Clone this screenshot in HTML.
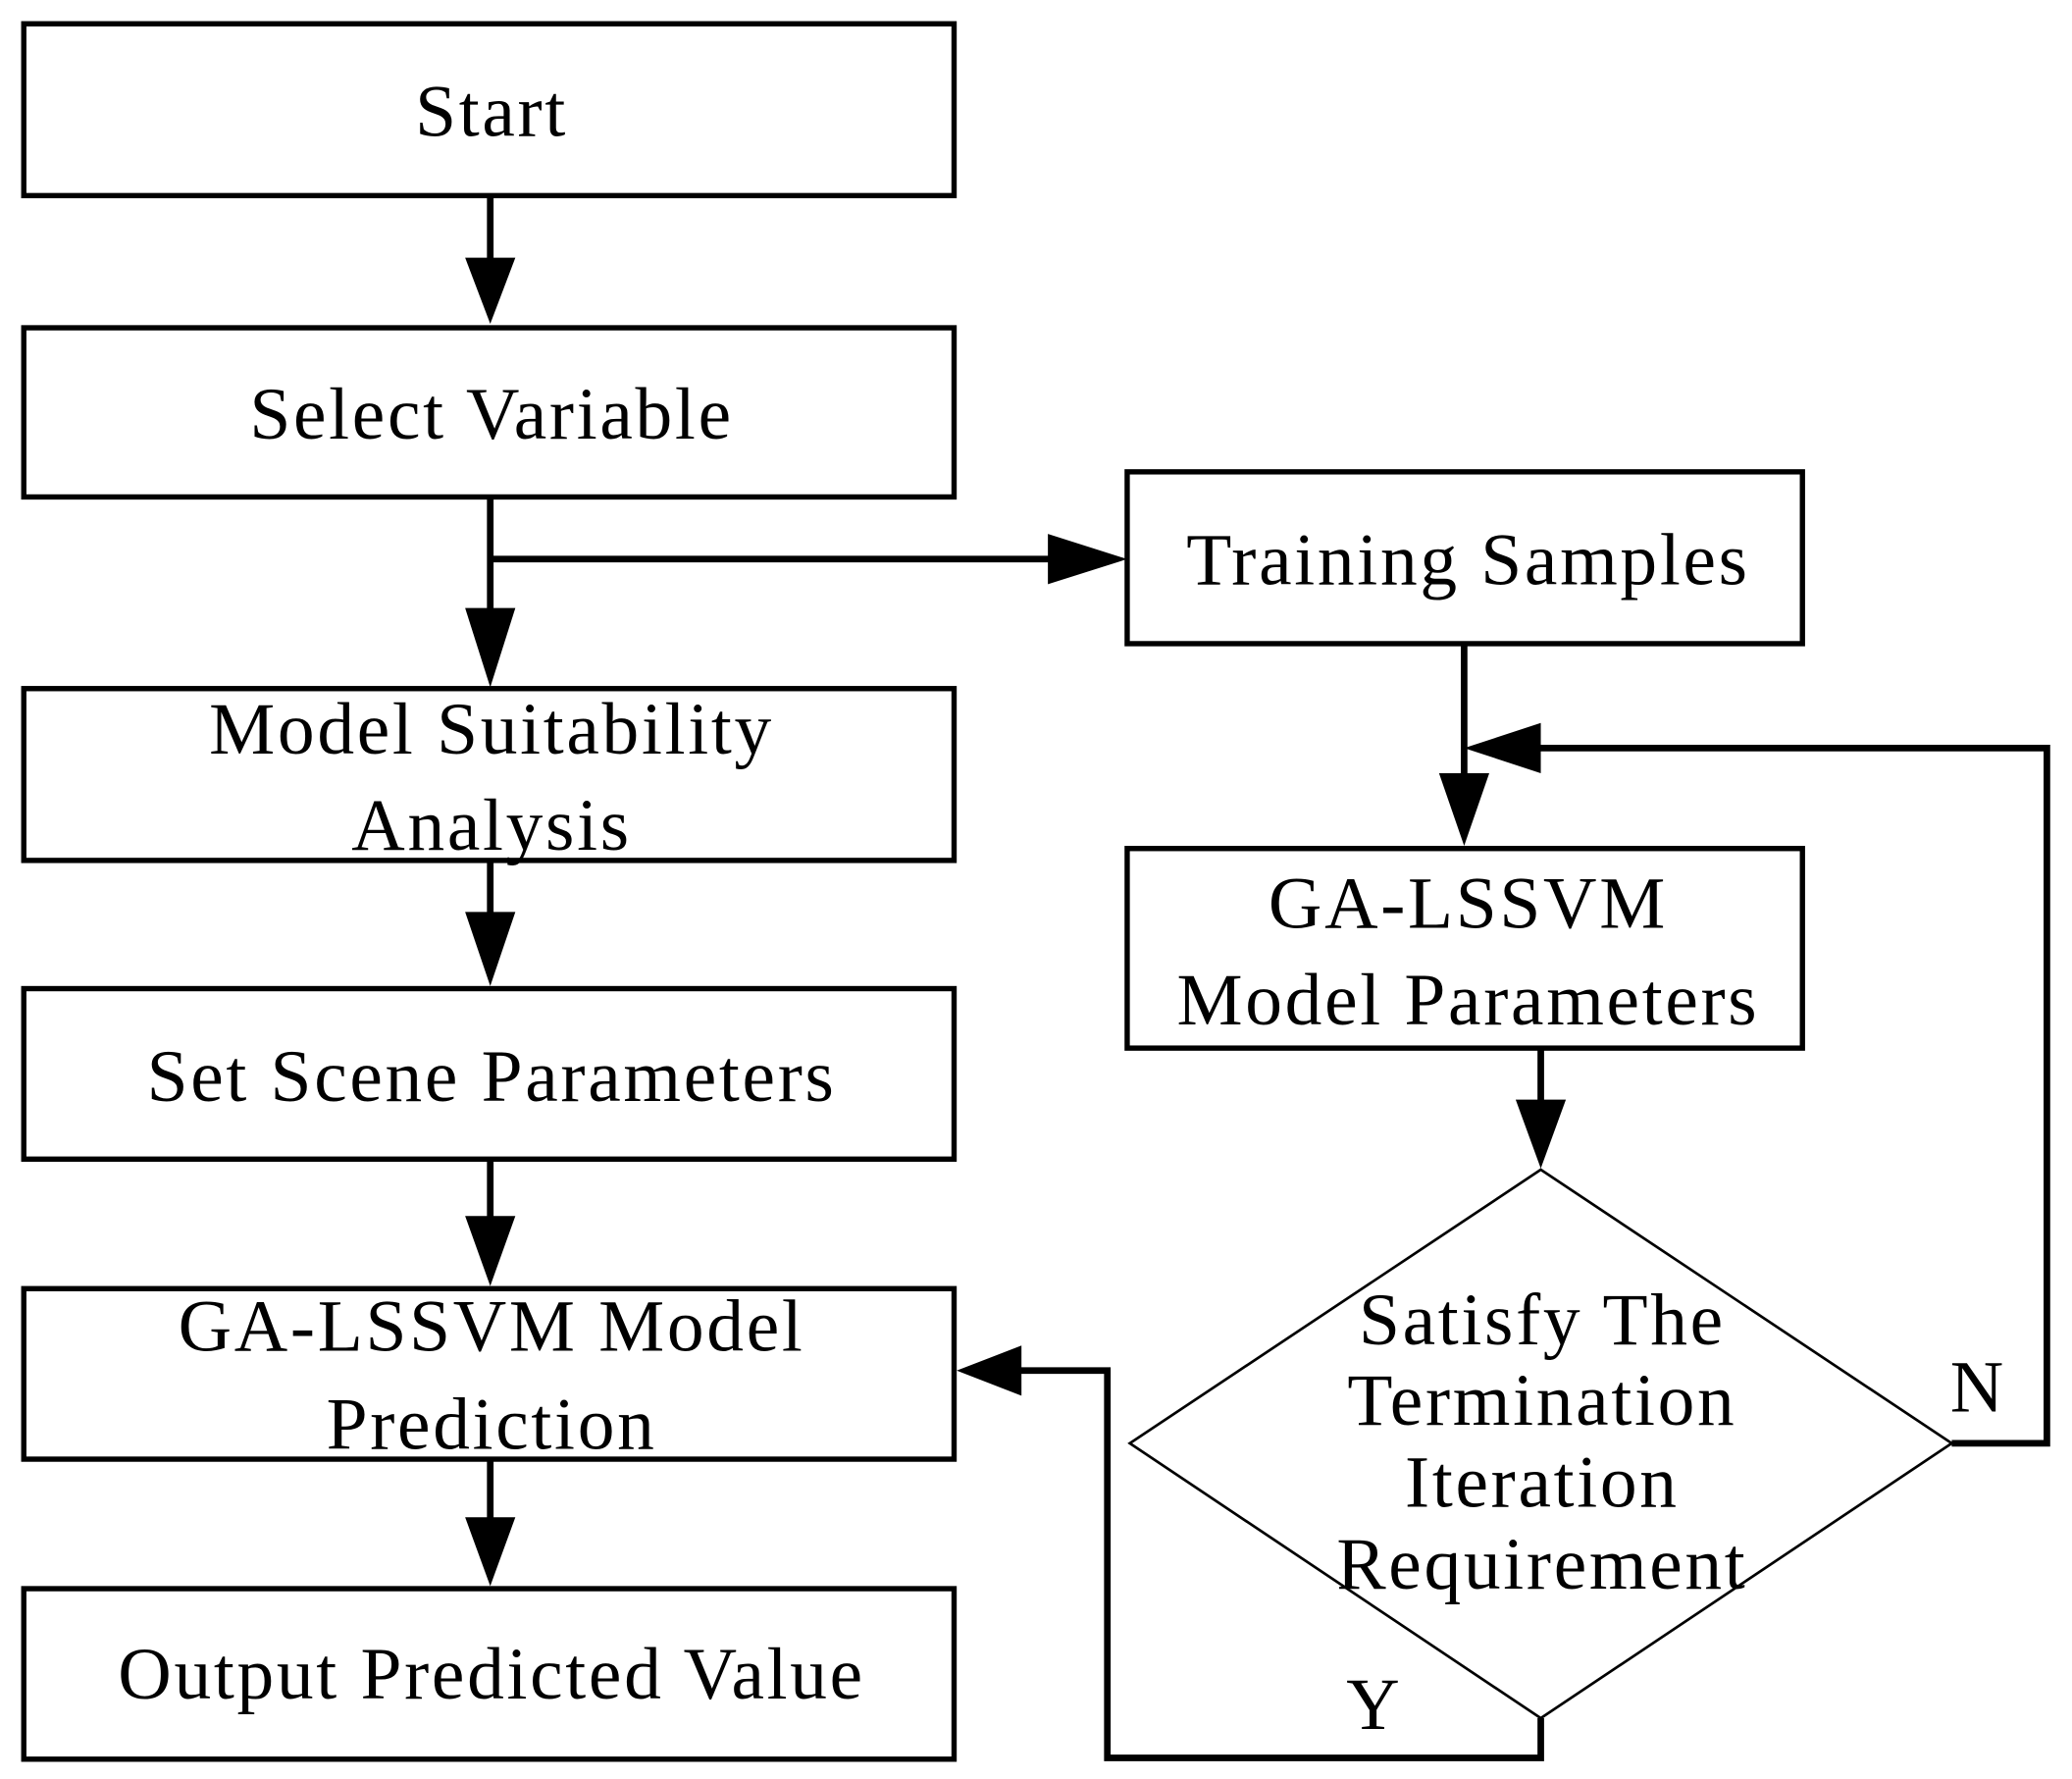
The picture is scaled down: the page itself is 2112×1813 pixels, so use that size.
<!DOCTYPE html>
<html><head><style>html,body{margin:0;padding:0;background:#fff}svg{display:block}</style></head>
<body>
<svg width="2112" height="1813" viewBox="0 0 1568 1346" preserveAspectRatio="none" xmlns="http://www.w3.org/2000/svg">
<g fill="#fff" stroke="#000" stroke-width="4">
<rect x="18" y="18" width="704" height="130"/>
<rect x="18" y="248" width="704" height="128"/>
<rect x="18" y="521" width="704" height="130"/>
<rect x="18" y="748" width="704" height="129"/>
<rect x="18" y="975" width="704" height="129"/>
<rect x="18" y="1202" width="704" height="129"/>
<rect x="853" y="357" width="511" height="130"/>
<rect x="853" y="642" width="511" height="151"/>
</g>
<polygon points="1166,885 1477,1092 1166,1300 855,1092" fill="none" stroke="#000" stroke-width="2"/>
<g stroke="#000" stroke-width="5" fill="none">
<line x1="371" y1="148" x2="371" y2="200"/>
<line x1="371" y1="376" x2="371" y2="470"/>
<line x1="371" y1="423" x2="800" y2="423"/>
<line x1="371" y1="651" x2="371" y2="700"/>
<line x1="371" y1="877" x2="371" y2="930"/>
<line x1="371" y1="1104" x2="371" y2="1155"/>
<line x1="1108" y1="487" x2="1108" y2="595"/>
<polyline points="1477,1092 1549,1092 1549,566 1160,566"/>
<line x1="1166" y1="793" x2="1166" y2="840"/>
<polyline points="1166,1300 1166,1330 838,1330 838,1037 770,1037"/>
</g>
<g fill="#000">
<polygon points="352,195 390,195 371,245"/>
<polygon points="352,460 390,460 371,520"/>
<polygon points="352,690 390,690 371,746"/>
<polygon points="352,920 390,920 371,973"/>
<polygon points="352,1148 390,1148 371,1200"/>
<polygon points="793,404 793,442 853,423"/>
<polygon points="1089,585 1127,585 1108,640"/>
<polygon points="1166,547 1166,585 1108,566"/>
<polygon points="1147,832 1185,832 1166,884"/>
<polygon points="773,1018 773,1056 724,1037"/>
</g>
<g font-family="'Liberation Serif', serif" font-size="56" text-anchor="middle" fill="#000" letter-spacing="2">
<text x="372" y="103">Start</text>
<text x="372" y="332">Select Variable</text>
<text x="372" y="570">Model Suitability</text>
<text x="372" y="643">Analysis</text>
<text x="372" y="833">Set Scene Parameters</text>
<text x="372" y="1022">GA-LSSVM Model</text>
<text x="372" y="1096">Prediction</text>
<text x="372" y="1285">Output Predicted Value</text>
<text x="1111" y="442">Training Samples</text>
<text x="1111" y="702">GA-LSSVM</text>
<text x="1111" y="775">Model Parameters</text>
<text x="1167" y="1017">Satisfy The</text>
<text x="1167" y="1078">Termination</text>
<text x="1167" y="1140">Iteration</text>
<text x="1167" y="1202">Requirement</text>
<text x="1497" y="1068">N</text>
<text x="1040" y="1308">Y</text>
</g>
</svg>
</body></html>
